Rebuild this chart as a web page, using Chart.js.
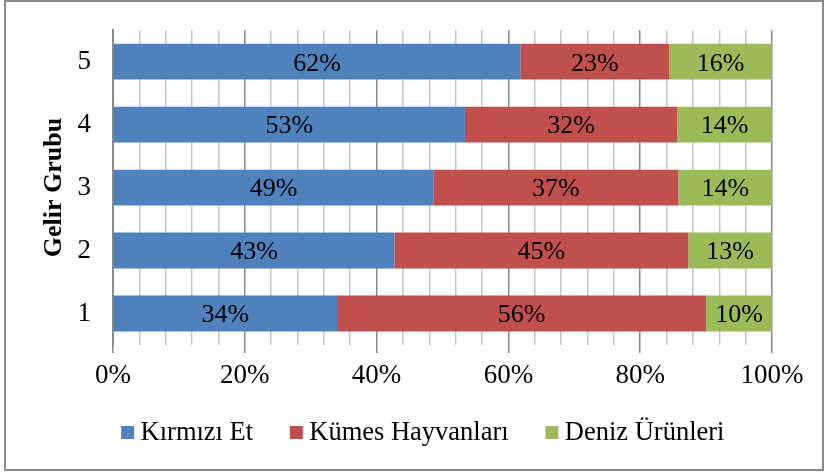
<!DOCTYPE html>
<html>
<head>
<meta charset="utf-8">
<script src="https://cdn.jsdelivr.net/npm/chart.js@4.4.1/dist/chart.umd.min.js"></script>
<style>
  html, body { margin: 0; padding: 0; background: #ffffff; }
  #wrap { position: relative; width: 826px; height: 472px; }
  #c { position: absolute; left: 0; top: 0; }
  #frame { position: absolute; left: 4px; top: 0px; width: 820px; height: 471px; box-sizing: border-box; border: 2px solid #8a8a8a; pointer-events: none; }
</style>
</head>
<body>
<div id="wrap">
  <canvas id="c" width="826" height="472"></canvas>
  <div id="frame"></div>
</div>
<script>
const categories = ['5', '4', '3', '2', '1'];
const seriesNames = ['Kırmızı Et', 'Kümes Hayvanları', 'Deniz Ürünleri'];
const kirmiziEt = [61.8, 53.4, 48.6, 42.7, 34.0];
const kumesHayvanlari = [22.6, 32.2, 37.2, 44.6, 56.0];
const denizUrunleri = [15.6, 14.4, 14.2, 12.7, 10.0];
const xTickValues = [0, 20, 40, 60, 80, 100];
const yAxisTitle = 'Gelir Grubu';

const FONT = "'Liberation Serif', 'Times New Roman', serif";
const colors = ['#4F81BD', '#C0504D', '#9BBB59'];

const valueLabels = {
  id: 'valueLabels',
  afterDatasetsDraw(chart) {
    const ctx = chart.ctx;
    ctx.save();
    ctx.font = '26px ' + FONT;
    ctx.fillStyle = '#000000';
    ctx.textAlign = 'center';
    ctx.textBaseline = 'middle';
    chart.data.datasets.forEach((ds, di) => {
      const meta = chart.getDatasetMeta(di);
      meta.data.forEach((bar, i) => {
        const p = bar.getCenterPoint();
        ctx.fillText(Math.round(ds.data[i]) + '%', p.x, p.y + 2);
      });
    });
    ctx.restore();
  }
};

// Legend drawn from the chart's datasets (labels + colours)
const bottomLegend = {
  id: 'bottomLegend',
  afterDraw(chart) {
    const ctx = chart.ctx;
    const box = 13, gap = 6.4, itemGap = 36.7, centerX = 422.8, baseline = 440, boxTop = 426;
    ctx.save();
    ctx.font = '26.5px ' + FONT;
    const items = chart.data.datasets.map(ds => ({ text: ds.label, color: ds.backgroundColor, w: ctx.measureText(ds.label).width }));
    const total = items.reduce((s, it) => s + box + gap + it.w, 0) + itemGap * (items.length - 1);
    let x = centerX - total / 2;
    ctx.textAlign = 'left';
    ctx.textBaseline = 'alphabetic';
    items.forEach(it => {
      ctx.fillStyle = it.color;
      ctx.fillRect(x, boxTop, box, box);
      ctx.fillStyle = '#000000';
      ctx.fillText(it.text, x + box + gap, baseline);
      x += box + gap + it.w + itemGap;
    });
    ctx.restore();
  }
};

new Chart(document.getElementById('c'), {
  type: 'bar',
  data: {
    labels: categories,
    datasets: [
      { label: seriesNames[0], data: kirmiziEt, backgroundColor: colors[0] },
      { label: seriesNames[1], data: kumesHayvanlari, backgroundColor: colors[1] },
      { label: seriesNames[2], data: denizUrunleri, backgroundColor: colors[2] }
    ]
  },
  options: {
    indexAxis: 'y',
    responsive: false,
    animation: false,
    devicePixelRatio: 1,
    layout: { padding: { left: 24, right: 54, top: 28.1, bottom: 80 } },
    datasets: { bar: { categoryPercentage: 1.0, barPercentage: 0.57 } },
    plugins: {
      legend: { display: false },
      tooltip: { enabled: false }
    },
    scales: {
      x: {
        stacked: true,
        min: 0,
        max: 100,
        afterFit(scale) { scale.height = 47; },
        afterBuildTicks(scale) {
          const t = [];
          for (let v = 0; v <= 100; v += 4) t.push({ value: v });
          scale.ticks = t;
        },
        ticks: {
          autoSkip: false,
          maxRotation: 0,
          minRotation: 0,
          padding: 7,
          color: '#000000',
          font: { family: FONT, size: 27 },
          callback: (v) => (xTickValues.includes(v) ? v + '%' : '')
        },
        grid: {
          color: (c) => (c.tick && xTickValues.includes(c.tick.value) ? '#8a8a8a' : '#c4c4c4'),
          tickColor: (c) => (c.tick && xTickValues.includes(c.tick.value) ? '#8a8a8a' : 'rgba(0,0,0,0)'),
          lineWidth: 1.5,
          tickLength: 8
        },
        border: { display: false }
      },
      y: {
        stacked: true,
        afterFit(scale) { scale.width = 113 - 24; },
        ticks: {
          padding: 14,
          color: '#000000',
          font: { family: FONT, size: 27 }
        },
        grid: { display: false },
        border: { display: true, color: '#8a8a8a', width: 2 },
        title: {
          display: true,
          text: yAxisTitle,
          color: '#000000',
          font: { family: FONT, size: 26, weight: 'bold' },
          padding: { top: 15, bottom: 0 }
        }
      }
    }
  },
  plugins: [valueLabels, bottomLegend]
});
</script>
</body>
</html>
